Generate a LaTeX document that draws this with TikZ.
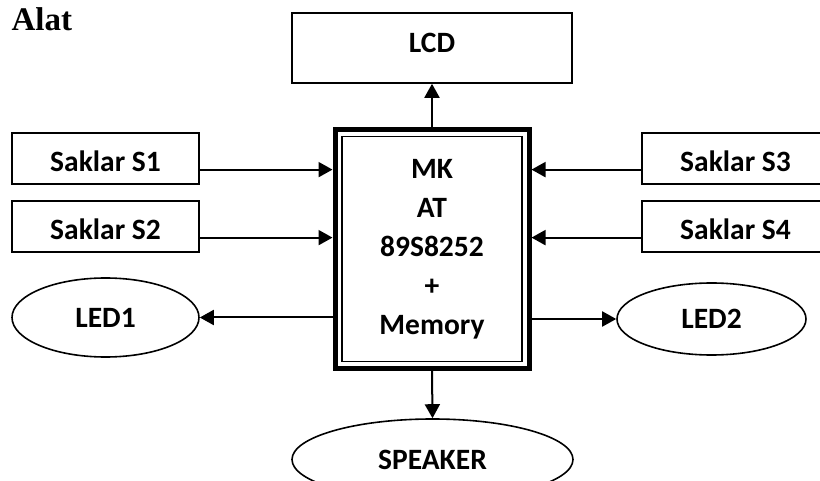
\documentclass[tikz,border=0pt]{standalone}
\usepackage{fontspec}
\setmainfont{Carlito}
\newfontfamily\titlefont{Liberation Serif}
\usetikzlibrary{arrows.meta,positioning,fit,shapes.geometric}

\begin{document}
\begin{tikzpicture}[
    x=1pt,y=-1pt,
    saklar/.style={draw,line width=1.6pt,minimum width=187pt,inner sep=0pt,text height=39pt,text depth=12pt,font=\fontsize{29.5}{34}\selectfont\bfseries},
    oval/.style={draw,ellipse,line width=1.6pt,inner sep=0pt,font=\fontsize{29.5}{34}\selectfont\bfseries},
    mcu/.style={draw,line width=1.6pt,minimum width=180pt,minimum height=225pt,align=center,font=\fontsize{29.5}{39}\selectfont\bfseries},
    arr/.style={line width=2pt,-{Triangle[length=14pt,width=15pt]}}
]
\useasboundingbox (0,0) rectangle (820,481);
\clip (0,0) rectangle (820,481);

\node[anchor=base west,font=\titlefont\fontsize{33}{38}\selectfont\bfseries] (title) at (8,31) {Alat};

\node[draw,line width=1.6pt,minimum width=280pt,inner sep=0pt,text height=40pt,text depth=30pt,font=\fontsize{29.5}{34}\selectfont\bfseries] (lcd) at (432,48) {LCD};

\node[saklar] (s1) at (105.5,158.5) {Saklar S1};
\node[saklar] (s2) at (105.5,226.5) {Saklar S2};
\node[saklar] (s3) at (735.5,158.5) {Saklar S3};
\node[saklar] (s4) at (735.5,226.5) {Saklar S4};

\node[mcu] (mk) at (432,249) {MK\\AT\\89S8252\\+\\Memory};
\node[draw,line width=5pt,inner sep=6.2pt,fit=(mk)] (mkf) {};

\node[oval,minimum width=187pt,minimum height=79pt] (led1) at (105.5,317.5) {LED1};
\node[oval,minimum width=189pt,minimum height=72pt] (led2) at (711.5,319) {LED2};
\node[oval,minimum width=281pt,minimum height=81pt] (spk) at (432.5,459.5) {SPEAKER};

\draw[arr] (s1.mid east) -- (s1.mid east -| mkf.west);
\draw[arr] (s2.mid east) -- (s2.mid east -| mkf.west);
\draw[arr] (s3.mid west) -- (s3.mid west -| mkf.east);
\draw[arr] (s4.mid west) -- (s4.mid west -| mkf.east);
\draw[arr] (mkf.north) -- (lcd.south);
\draw[arr] (mkf.west |- led1.east) -- (led1.east);
\draw[arr] (mkf.east |- led2.west) -- (led2.west);
\draw[arr] (mkf.south) -- (spk.north);
\end{tikzpicture}
\end{document}
